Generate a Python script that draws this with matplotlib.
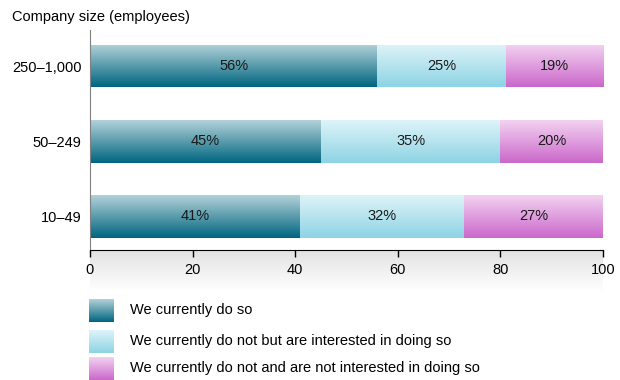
"""Stacked horizontal bars: interest by company size, gradient fills."""
import numpy as np
import matplotlib.pyplot as plt
from matplotlib.colors import LinearSegmentedColormap

plt.rcParams["font.family"] = ["Liberation Sans", "DejaVu Sans"]

sizes = ["10–49", "50–249", "250–1,000"]
do_so = [41, 45, 56]
interested = [32, 35, 25]
not_interested = [27, 20, 19]
series_names = [
    "We currently do so",
    "We currently do not but are interested in doing so",
    "We currently do not and are not interested in doing so",
]

FS = 10.5

# (top colour, bottom colour) of each vertical gradient
grads = [("#b2d1d8", "#006680"), ("#def3f8", "#8dd4e4"), ("#f2d2f0", "#cb68cb")]
cmaps = [LinearSegmentedColormap.from_list(f"g{i}", [b, t]) for i, (t, b) in enumerate(grads)]
ramp = np.linspace(0, 1, 64).reshape(-1, 1)  # row 0 -> bottom with origin='lower'

fig = plt.figure(figsize=(6.2, 3.8), dpi=100, facecolor="white")
ax = fig.add_axes([90 / 620, 1 - 250 / 380, 513 / 620, 220 / 380])

# faint shadow under the x axis
sh = fig.add_axes([90 / 620, 1 - 292 / 380, 513 / 620, 42 / 380], zorder=-1)
sh.imshow(np.linspace(0, 1, 32).reshape(-1, 1),
          cmap=LinearSegmentedColormap.from_list("sh", ["#e2e2e2", "#ffffff"]),
          aspect="auto", extent=[0, 1, 0, 1], origin="upper")
sh.axis("off")

y = np.arange(len(sizes))
left = np.zeros(len(sizes))
for vals, cm in zip([do_so, interested, not_interested], cmaps):
    bars = ax.barh(y, vals, left=left, height=0.573, color="none", edgecolor="none")
    for b, v in zip(bars, vals):
        x0, y0, w, h = b.get_x(), b.get_y(), b.get_width(), b.get_height()
        im = ax.imshow(ramp, cmap=cm, aspect="auto", origin="lower",
                       extent=[x0, x0 + w, y0, y0 + h], zorder=2)
        im.set_clip_path(b)
        ax.text(x0 + w / 2, y0 + h / 2, f"{v}%", ha="center", va="center",
                fontsize=FS, color="#1a1a1a", zorder=3)
    left += np.array(vals)

ax.set_xlim(0, 100)
ax.set_ylim(-0.453, 2.48)
ax.set_yticks(y)
ax.set_yticklabels(sizes, fontsize=FS)
ax.tick_params(axis="y", length=0, pad=6)
ax.set_xticks([0, 20, 40, 60, 80, 100])
ax.tick_params(axis="x", length=5, width=1, labelsize=FS, pad=4)
for s in ["top", "right"]:
    ax.spines[s].set_visible(False)
ax.spines["left"].set_color("#808080")
ax.spines["bottom"].set_color("black")
ax.set_facecolor("none")

fig.text(12 / 620, 1 - 17 / 380, "Company size (employees)", fontsize=FS,
         ha="left", va="center")

# legend with gradient swatches
rows_y = [310, 341, 368]
for name, cm, ry in zip(series_names, cmaps, rows_y):
    sw = fig.add_axes([89 / 620, 1 - (ry + 11.5) / 380, 25 / 620, 23 / 380])
    sw.imshow(ramp, cmap=cm, aspect="auto", origin="lower", extent=[0, 1, 0, 1])
    sw.axis("off")
    fig.text(130 / 620, 1 - ry / 380, name, fontsize=FS, ha="left", va="center")

fig.savefig("out.png", dpi=100, facecolor="white")
